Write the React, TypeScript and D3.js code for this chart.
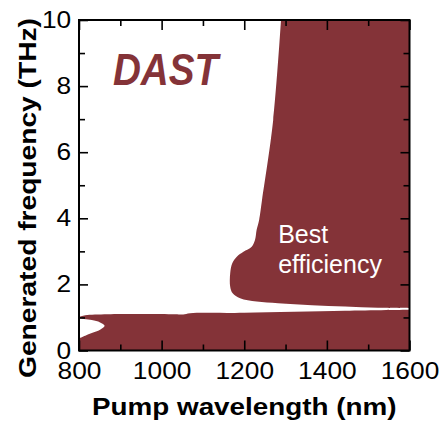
import React, { useEffect, useRef } from 'react';
import * as d3 from 'd3';

type Pt = [number, number];

// axis ranges and ticks
const wavelengthDomain: [number, number] = [800, 1600];
const frequencyDomain: [number, number] = [0, 10];
const xMajorTicks = [800, 1000, 1200, 1400, 1600];
const xMinorTicks = [900, 1100, 1300, 1500];
const yMajorTicks = [0, 2, 4, 6, 8, 10];
const yMinorTicks = [1, 3, 5, 7, 9];

// low-frequency band: upper boundary (nm, THz), read right to left
const bandUpperEdge: Pt[] = [
  [1600, 1.23], [1444, 1.2], [1200, 1.14], [1069, 1.13], [1052, 1.09],
  [1032, 1.1], [870, 1.1], [815, 1.07], [800, 1.02],
];
// white notch cut into the band at the left edge
const bandNotchEdge: Pt[] = [
  [800, 0.97], [831, 0.92], [851, 0.85], [862, 0.75], [851, 0.63],
  [831, 0.53], [815, 0.45], [800, 0.37],
];
// best-efficiency region: left and lower boundary, top to bottom-right
const efficientEdge: Pt[] = [
  [1289, 10], [1270, 6.97], [1243, 4.55], [1236, 3.95], [1230, 3.65],
  [1226, 3.34], [1218, 3.14], [1198, 2.99], [1182, 2.84], [1171, 2.64],
  [1166, 2.34], [1166, 1.93], [1172, 1.73], [1190, 1.58], [1230, 1.48],
  [1282, 1.43], [1364, 1.37], [1444, 1.33], [1524, 1.29], [1600, 1.28],
];

const FILL = '#843338';
const FONT = '"Liberation Sans", Arial, Helvetica, sans-serif';

const App: React.FC = () => {
  const svgRef = useRef<SVGSVGElement | null>(null);

  useEffect(() => {
    if (!svgRef.current) return;
    const svg = d3.select(svgRef.current);
    svg.selectAll('*').remove();

    const width = 441;
    const height = 423;
    const margin = { top: 20, right: 31.5, bottom: 72.5, left: 79 };
    const x = d3.scaleLinear().domain(wavelengthDomain).range([margin.left, width - margin.right]);
    const y = d3.scaleLinear().domain(frequencyDomain).range([height - margin.bottom, margin.top]);

    svg.append('defs').append('clipPath').attr('id', 'plot-clip')
      .append('rect')
      .attr('x', x(800)).attr('y', y(10))
      .attr('width', x(1600) - x(800)).attr('height', y(0) - y(10));

    const edge = d3.line<Pt>()
      .x(d => x(d[0]))
      .y(d => y(d[1]))
      .curve(d3.curveCatmullRom.alpha(0.5));

    const bandPath = `M${x(800)},${y(0)}L${x(1600)},${y(0)}L${edge(bandUpperEdge)!.slice(1)}L${edge(bandNotchEdge)!.slice(1)}Z`;
    const regionPath = `M${x(1600)},${y(10)}L${edge(efficientEdge)!.slice(1)}Z`;

    const plot = svg.append('g').attr('clip-path', 'url(#plot-clip)');
    plot.append('path').attr('d', bandPath).attr('fill', FILL);
    plot.append('path').attr('d', regionPath).attr('fill', FILL);

    // inward ticks on all four sides
    const tickStyle = (g: any) => {
      g.select('.domain').remove();
      g.selectAll('line').attr('stroke', '#000').attr('stroke-width', 1.6);
    };
    const labelStyle = (g: any) => {
      g.selectAll('text')
        .attr('fill', '#000')
        .attr('font-family', FONT)
        .attr('font-size', 23.5)
        .attr('transform', 'scale(1.12,1)');
    };

    svg.append('g')
      .attr('transform', `translate(0,${y(0)})`)
      .call(d3.axisBottom(x).tickValues(xMajorTicks).tickSizeInner(-10).tickSizeOuter(0).tickPadding(12).tickFormat(d3.format('d')))
      .call(tickStyle).call(labelStyle);
    svg.append('g')
      .attr('transform', `translate(0,${y(0)})`)
      .call(d3.axisBottom(x).tickValues(xMinorTicks).tickSizeInner(-6).tickSizeOuter(0).tickFormat(() => ''))
      .call(tickStyle);
    svg.append('g')
      .attr('transform', `translate(0,${y(10)})`)
      .call(d3.axisTop(x).tickValues(xMajorTicks).tickSizeInner(-10).tickSizeOuter(0).tickFormat(() => ''))
      .call(tickStyle);
    svg.append('g')
      .attr('transform', `translate(0,${y(10)})`)
      .call(d3.axisTop(x).tickValues(xMinorTicks).tickSizeInner(-6).tickSizeOuter(0).tickFormat(() => ''))
      .call(tickStyle);

    svg.append('g')
      .attr('transform', `translate(${x(800)},0)`)
      .call(d3.axisLeft(y).tickValues(yMajorTicks).tickSizeInner(-9).tickSizeOuter(0).tickPadding(7))
      .call(tickStyle).call(labelStyle);
    svg.append('g')
      .attr('transform', `translate(${x(800)},0)`)
      .call(d3.axisLeft(y).tickValues(yMinorTicks).tickSizeInner(-6).tickSizeOuter(0).tickFormat(() => ''))
      .call(tickStyle);
    svg.append('g')
      .attr('transform', `translate(${x(1600)},0)`)
      .call(d3.axisRight(y).tickValues(yMajorTicks).tickSizeInner(-9).tickSizeOuter(0).tickFormat(() => ''))
      .call(tickStyle);
    svg.append('g')
      .attr('transform', `translate(${x(1600)},0)`)
      .call(d3.axisRight(y).tickValues(yMinorTicks).tickSizeInner(-6).tickSizeOuter(0).tickFormat(() => ''))
      .call(tickStyle);

    svg.append('rect')
      .attr('x', x(800)).attr('y', y(10))
      .attr('width', x(1600) - x(800)).attr('height', y(0) - y(10))
      .attr('fill', 'none').attr('stroke', '#000').attr('stroke-width', 2);

    // axis titles
    svg.append('text')
      .attr('transform', `translate(${(x(800) + x(1600)) / 2},415) scale(1.16,1)`)
      .attr('text-anchor', 'middle')
      .attr('font-family', FONT).attr('font-weight', 'bold').attr('font-size', 24)
      .text('Pump wavelength (nm)');
    svg.append('text')
      .attr('transform', `translate(36,198) rotate(-90) scale(1.15,1)`)
      .attr('text-anchor', 'middle')
      .attr('font-family', FONT).attr('font-weight', 'bold').attr('font-size', 24.5)
      .text('Generated frequency (THz)');

    // annotations
    svg.append('text')
      .attr('transform', `translate(${x(882)},${y(8.03)}) scale(0.86,1)`)
      .attr('font-family', FONT).attr('font-weight', 'bold').attr('font-style', 'italic')
      .attr('font-size', 45).attr('fill', FILL)
      .text('DAST');
    const note = svg.append('text')
      .attr('font-family', FONT).attr('font-size', 25).attr('fill', '#fff');
    note.append('tspan').attr('x', x(1282)).attr('y', y(3.25)).text('Best');
    note.append('tspan').attr('x', x(1282)).attr('y', y(2.345)).text('efficiency');
  }, []);

  return (
    <svg
      ref={svgRef}
      width={441}
      height={423}
      style={{ position: 'absolute', left: 0, top: 0, background: '#fff' }}
    />
  );
};

export default App;
